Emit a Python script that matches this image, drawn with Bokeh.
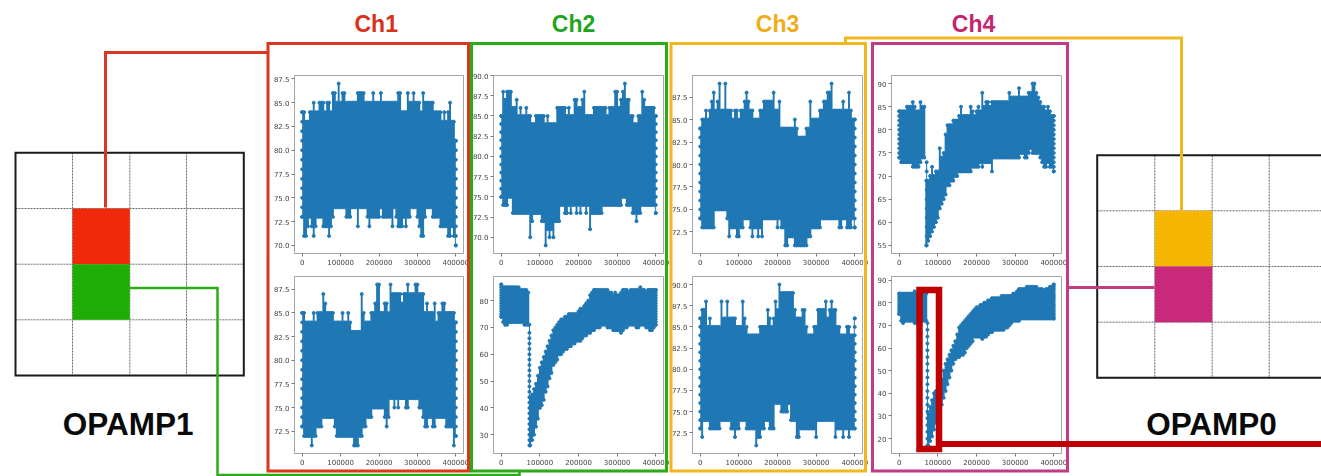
from bokeh.plotting import figure
from bokeh.models import Column, ColumnDataSource, PrintfTickFormatter
from bokeh.core.properties import value
from bokeh.embed import file_html
from bokeh.resources import INLINE

# ---- values: sample positions and envelope of each trace ----
SAMPLE_X = list(range(0, 405000, 5000))
X_TICKS = [0, 100000, 200000, 300000, 400000]

CH1_TOP_HI = [84,84,83,83,84,84,85,84,84,85,
85,85,84,85,85,84,86,86,85,87,
85,86,86,85,85,85,85,85,85,86,
86,86,86,85,85,85,85,86,85,85,
85,86,85,85,85,85,85,85,85,85,
86,86,84,84,84,86,85,85,86,85,
85,85,84,86,85,85,85,85,85,84,
84,84,84,83,84,83,84,85,83,83,
81]
CH1_TOP_LO = [73,71,71,72,73,72,71,72,73,73,
73,72,72,72,71,72,73,74,74,74,
74,74,74,73,73,73,74,74,74,72,
74,74,74,74,73,72,73,73,73,73,
73,74,73,73,73,73,73,72,74,73,
72,72,72,73,72,73,73,74,74,74,
73,72,71,71,73,74,74,74,73,73,
73,73,72,72,72,72,71,71,72,71,
70]
CH1_BOT_HI = [85,85,84,84,84,84,85,84,85,85,
85,87,86,85,85,85,85,84,84,84,
84,85,84,84,85,84,83,83,83,83,
83,87,85,84,84,84,85,85,86,88,
88,85,85,86,86,85,88,87,87,87,
87,87,86,87,87,88,87,87,87,88,
88,87,87,87,85,86,85,85,85,86,
84,85,85,86,86,85,85,85,85,85,
84]
CH1_BOT_LO = [73,72,72,72,72,71,72,72,73,73,
73,74,74,74,74,74,74,73,72,72,
72,72,72,72,72,72,72,71,71,71,
72,72,73,73,74,74,74,75,75,75,
75,75,75,74,73,74,76,76,75,76,
75,76,76,76,75,75,76,76,76,76,
76,75,75,74,73,73,74,74,73,73,
74,74,74,74,74,73,73,73,73,71,
72]
CH2_TOP_HI = [85,88,87,88,88,88,86,86,87,85,
86,85,85,86,85,85,84,84,85,85,
85,85,85,84,85,84,84,84,84,86,
86,86,86,86,85,86,85,85,87,87,
86,86,87,88,85,85,85,85,86,86,
86,86,86,86,86,85,86,86,86,88,
88,86,87,88,89,87,87,85,85,84,
84,85,85,88,87,86,86,86,86,86,
85]
CH2_TOP_LO = [75,74,74,74,75,75,73,73,73,73,
73,73,73,73,73,70,72,73,73,73,
73,72,72,69,71,70,71,70,72,72,
72,74,74,73,73,74,73,74,74,73,
74,73,74,74,73,74,71,73,73,73,
73,73,73,74,74,74,74,74,74,74,
74,74,74,75,75,74,74,74,73,73,
72,73,73,74,74,74,74,74,74,74,
73]
CH2_BOT_HI = [86,85,85,85,85,85,85,85,85,85,
84,84,84,84,83,44,45,47,49,52,
55,57,59,61,63,65,67,69,70,71,
72,73,73,74,74,75,75,75,75,75,
76,77,77,78,79,80,82,83,84,84,
84,84,84,84,84,84,83,83,82,83,
82,82,83,84,84,84,83,84,84,84,
84,84,85,84,84,83,84,84,84,84,
84]
CH2_BOT_LO = [74,72,71,71,72,72,72,72,72,72,
72,72,71,71,71,26,28,30,33,36,
40,41,43,46,48,51,53,56,57,58,
60,60,61,62,62,63,63,64,64,65,
65,65,66,67,67,68,68,69,69,70,
70,70,71,71,71,70,70,70,69,69,
69,69,68,69,70,70,71,71,71,71,
70,70,71,71,71,70,70,69,69,70,
71]
CH3_TOP_HI = [84,85,85,86,85,86,87,88,86,87,
89,86,86,89,86,86,86,85,86,86,
85,86,86,87,88,87,86,86,85,85,
85,86,86,87,87,87,87,87,88,86,
86,87,84,84,84,84,84,84,84,85,
84,83,83,83,83,84,84,87,85,85,
85,85,86,86,87,87,88,88,89,86,
86,86,86,86,87,86,86,88,86,85,
85]
CH3_TOP_LO = [74,73,73,73,73,73,73,73,75,75,
75,75,75,75,74,72,73,73,73,72,
72,73,73,74,74,74,73,72,73,73,
72,73,72,74,74,74,74,74,74,74,
73,74,73,73,71,71,72,72,72,71,
71,71,71,71,71,71,72,72,73,73,
73,73,73,74,74,74,74,74,74,74,
74,74,73,73,74,74,73,73,73,74,
73]
CH3_BOT_HI = [86,87,87,88,85,86,85,85,85,85,
85,88,86,86,88,86,86,86,86,85,
85,85,88,86,85,84,84,84,84,84,
84,85,85,85,85,87,86,85,86,88,
87,90,89,89,89,89,89,89,89,87,
86,86,86,87,87,85,84,84,84,85,
85,87,87,87,87,88,86,87,88,87,
87,85,85,84,84,84,85,85,84,84,
86]
CH3_BOT_LO = [73,72,74,74,74,73,73,73,73,73,
73,74,74,74,74,74,73,73,72,73,
73,74,74,74,73,73,73,73,73,71,
72,72,73,73,74,74,73,73,73,76,
76,76,75,75,75,75,76,74,74,74,
72,72,73,73,73,73,73,73,73,73,
72,74,74,74,74,74,74,74,74,74,
72,73,73,73,72,73,73,72,73,73,
73]
CH4_TOP_HI = [84,84,84,84,85,85,85,86,85,84,
84,86,85,85,69,69,70,72,70,71,
71,76,74,75,79,81,81,81,82,82,
82,83,85,83,83,83,83,85,84,83,
84,85,84,88,85,86,86,85,86,86,
86,86,86,86,86,86,86,88,87,87,
87,87,89,87,87,87,87,88,88,90,
90,88,87,86,85,85,84,85,84,83,
83]
CH4_TOP_LO = [74,73,73,73,73,73,73,72,72,72,
72,73,74,74,55,56,57,58,59,60,
61,63,64,65,66,68,68,69,69,70,
70,71,71,71,71,71,71,71,72,72,
72,72,73,72,73,73,73,73,71,74,
74,74,74,74,74,74,74,74,74,74,
74,74,74,75,75,74,74,75,76,75,
75,75,75,74,73,72,72,73,72,72,
71]
CH4_BOT_HI = [84,84,84,84,84,84,84,84,85,84,
84,84,84,84,84,31,34,37,40,41,
43,44,46,50,53,55,57,59,61,63,
66,69,70,71,72,73,74,75,76,77,
78,78,79,79,80,80,81,81,82,82,
82,82,82,83,83,83,83,83,83,84,
84,85,86,86,86,86,87,87,87,87,
87,87,86,86,86,85,86,86,87,87,
88]
CH4_BOT_LO = [75,72,71,72,72,72,72,72,71,71,
70,72,72,72,72,17,19,21,24,27,
31,33,35,38,41,44,47,50,53,55,
56,56,57,57,58,60,61,62,63,65,
65,65,65,64,65,65,66,67,67,68,
68,68,68,68,68,69,69,70,71,72,
72,72,72,73,73,73,73,73,73,73,
73,73,73,73,73,73,73,73,73,73,
73]

# isolated points on the fall of the recovering traces
CH2_BOT_DROP_X = 73000
CH2_BOT_DROP = [71,68,66,64,62,60,58,56,54,52,50,48,46,44,42,40,38,36,34,32,30,28,26]
CH4_TOP_DROP_X = 71000
CH4_TOP_DROP = [73,71,69,67,65,63,61,59,57,55]
CH4_BOT_DROP_X = 73000
CH4_BOT_DROP = [71,68,65,62,59,56,53,50,47,44,41,38,35,32,29,26,23,20,17]

Y_TICKS = {
    "1t": [70, 72.5, 75, 77.5, 80, 82.5, 85, 87.5],
    "1b": [72.5, 75, 77.5, 80, 82.5, 85, 87.5],
    "2t": [70, 72.5, 75, 77.5, 80, 82.5, 85, 87.5, 90],
    "2b": [30, 40, 50, 60, 70, 80],
    "3t": [72.5, 75, 77.5, 80, 82.5, 85, 87.5],
    "3b": [72.5, 75, 77.5, 80, 82.5, 85, 87.5, 90],
    "4t": [55, 60, 65, 70, 75, 80, 85, 90],
    "4b": [20, 30, 40, 50, 60, 70, 80, 90],
}
CH_TITLES = ["Ch1", "Ch2", "Ch3", "Ch4"]
CHIP_LABELS = ["OPAMP1", "OPAMP0"]

BLUE = "#1f77b4"
L, R, T, B = 34, 14, 4, 20
TOP = (75, 253)
BOT = (276, 453)
ORIGIN = {"position": "absolute", "left": "0px", "top": "0px"}
DOT = 3.0


def panel(frame_x, frame_y, hi, lo, yr, yticks, fmt, drop_x=None, drop=None):
    fw = frame_x[1] - frame_x[0]
    fh = frame_y[1] - frame_y[0]
    p = figure(width=fw + L + R, height=fh + T + B, output_backend="svg", toolbar_location=None,
               x_range=(-20000, 420000), y_range=yr, min_border_left=L, min_border_right=R,
               min_border_top=T, min_border_bottom=B,
               background_fill_alpha=0, border_fill_alpha=0,
               styles={"position": "absolute", "left": f"{frame_x[0] - L}px", "top": f"{frame_y[0] - T}px",
                       "filter": "blur(0.35px)"})
    p.grid.visible = False
    p.outline_line_color = "#a6a6a6"
    p.outline_line_width = 1
    for ax, ticks, f in ((p.xaxis[0], X_TICKS, "%d"), (p.yaxis[0], yticks, fmt)):
        ax.ticker = ticks
        ax.formatter = PrintfTickFormatter(format=f)
        ax.axis_line_color = "#a6a6a6"
        ax.major_tick_line_color = "#777777"
        ax.major_tick_out = 3
        ax.major_tick_in = 0
        ax.minor_tick_line_color = None
        ax.major_label_text_font = "DejaVu Sans"
        ax.major_label_text_font_size = "7px"
        ax.major_label_text_color = "#444444"
        ax.major_label_standoff = 2
    src = ColumnDataSource(dict(x=SAMPLE_X, hi=hi, lo=lo))
    p.varea_step(x="x", y1="lo", y2="hi", source=src, step_mode="center", fill_color=BLUE)
    p.scatter(x="x", y="hi", source=src, size=DOT, color=BLUE)
    p.scatter(x="x", y="lo", source=src, size=DOT, color=BLUE)
    for xe, a, b in ((SAMPLE_X[0], lo[0], hi[0]), (SAMPLE_X[-1], lo[-1], hi[-1])):
        ys = list(range(a, b + 1))
        p.scatter(x=[xe] * len(ys), y=ys, size=DOT, color=BLUE)
    if drop is not None:
        p.scatter(x=[drop_x] * len(drop), y=drop, size=DOT, color=BLUE)
        p.line(x=[drop_x] * len(drop), y=drop, line_color=BLUE, line_width=1)
    return p


panels = [
    panel((294, 463), TOP, CH1_TOP_HI, CH1_TOP_LO, (69.15, 87.85), Y_TICKS["1t"], "%.1f"),
    panel((294, 463), BOT, CH1_BOT_HI, CH1_BOT_LO, (70.15, 88.85), Y_TICKS["1b"], "%.1f"),
    panel((493, 663), TOP, CH2_TOP_HI, CH2_TOP_LO, (68.0, 90.0), Y_TICKS["2t"], "%.1f"),
    panel((493, 663), BOT, CH2_BOT_HI, CH2_BOT_LO, (23.0, 89.0), Y_TICKS["2b"], "%d", CH2_BOT_DROP_X, CH2_BOT_DROP),
    panel((692, 862), TOP, CH3_TOP_HI, CH3_TOP_LO, (70.1, 89.9), Y_TICKS["3t"], "%.1f"),
    panel((692, 862), BOT, CH3_BOT_HI, CH3_BOT_LO, (70.05, 90.95), Y_TICKS["3b"], "%.1f"),
    panel((891, 1061), TOP, CH4_TOP_HI, CH4_TOP_LO, (53.25, 91.75), Y_TICKS["4t"], "%d", CH4_TOP_DROP_X, CH4_TOP_DROP),
    panel((891, 1061), BOT, CH4_BOT_HI, CH4_BOT_LO, (13.45, 91.55), Y_TICKS["4b"], "%d", CH4_BOT_DROP_X, CH4_BOT_DROP),
]

# ---- the diagram drawn over the plots, in page pixels ----
o = figure(width=1321, height=476, output_backend="svg", toolbar_location=None,
           x_range=(0, 1321), y_range=(476, 0), x_axis_location=None, y_axis_location=None,
           min_border=0, min_border_left=0, min_border_right=0, min_border_top=0, min_border_bottom=0,
           background_fill_alpha=0, border_fill_alpha=0, outline_line_color=None,
           styles=dict(ORIGIN))
o.grid.visible = False


def dotted(x0, y0, x1, y1):
    o.segment(x0=x0, y0=y0, x1=x1, y1=y1, line_color="#6a6a6a", line_width=1, line_dash="2 1")


# OPAMP1 floorplan
dotted([72, 129.3, 186, 15, 15, 15], [152, 152, 152, 208, 263.7, 319.3],
       [72, 129.3, 186, 243, 243, 243], [375, 375, 375, 208, 263.7, 319.3])
o.quad(left=[72, 72], right=[129.3, 129.3], top=[208, 263.7], bottom=[263.7, 319.3],
       fill_color=["#ee2a0a", "#1fad05"], line_color=None)
o.quad(left=[15], right=[243.3], top=[152.3], bottom=[375], fill_color=None, line_color="#1a1a1a", line_width=2,
       line_join="miter")

# OPAMP0 floorplan
dotted([1154.3, 1211.7, 1268.7, 1097, 1097, 1097], [155, 155, 155, 210.3, 266, 321.7],
       [1154.3, 1211.7, 1268.7, 1321, 1321, 1321], [377, 377, 377, 210.3, 266, 321.7])
o.quad(left=[1154.3, 1154.3], right=[1211.7, 1211.7], top=[210.3, 266], bottom=[266, 321.7],
       fill_color=["#f6b500", "#c9297a"], line_color=None)
o.line(x=[1323, 1096.7, 1096.7, 1323], y=[154.7, 154.7, 377.3, 377.3], line_color="#1a1a1a", line_width=2,
       line_join="miter")

# channel frames and connectors
FRAME_COLORS = ["#d9371f", "#2bab17", "#f0b71e", "#c23c85"]
FRAME_L = [267.5, 471, 670.5, 872]
FRAME_R = [468, 666, 865, 1067]
o.line(x=[105, 105, 267], y=[207, 52, 52], line_color=FRAME_COLORS[0], line_width=3, line_join="miter")
o.line(x=[129, 217, 217, 519, 519], y=[287.5, 287.5, 474.5, 474.5, 470], line_color=FRAME_COLORS[1], line_width=2.5,
       line_join="miter")
o.line(x=[845, 845, 1181, 1181], y=[43, 37.5, 37.5, 210], line_color=FRAME_COLORS[2], line_width=3, line_join="miter")
o.line(x=[1067, 1154], y=[287, 287], line_color=FRAME_COLORS[3], line_width=3)
o.quad(left=FRAME_L, right=FRAME_R, top=[43] * 4, bottom=[470.5] * 4, fill_color=None,
       line_color=FRAME_COLORS, line_width=3, line_join="miter")

# highlight on the lower Ch4 plot
o.quad(left=[919], right=[938.5], top=[289.5], bottom=[448.5], fill_color=None, line_color="#c00000", line_width=6.5,
       line_join="miter")
o.line(x=[938, 1323], y=[443.5, 443.5], line_color="#c00000", line_width=6)

TITLE_COLORS = ["#d9301a", "#22a51c", "#f0ad1a", "#c4256f"]
o.text(x=[375.7, 573, 777, 973], y=[23.5] * 4, text=CH_TITLES, text_align="center", text_baseline="middle",
       text_font=value("Liberation Sans"), text_font_style="bold", text_font_size="23px", text_color=TITLE_COLORS)
o.text(x=[127.7, 1211], y=[423, 423], text=CHIP_LABELS, text_align="center", text_baseline="middle",
       text_font=value("Liberation Sans"), text_font_style="bold", text_font_size="31.5px", text_color="#0a0a0a")

# Separate groups, so that the diagram's frame is not aligned with the plots' frames.
plots_group = Column(children=panels, width=1321, height=476, styles=dict(ORIGIN))
diagram_group = Column(children=[o], width=1321, height=476, styles=dict(ORIGIN))
page = Column(children=[plots_group, diagram_group], width=1321, height=476, styles=dict(ORIGIN))
open("out.html", "w").write(file_html(page, INLINE))
